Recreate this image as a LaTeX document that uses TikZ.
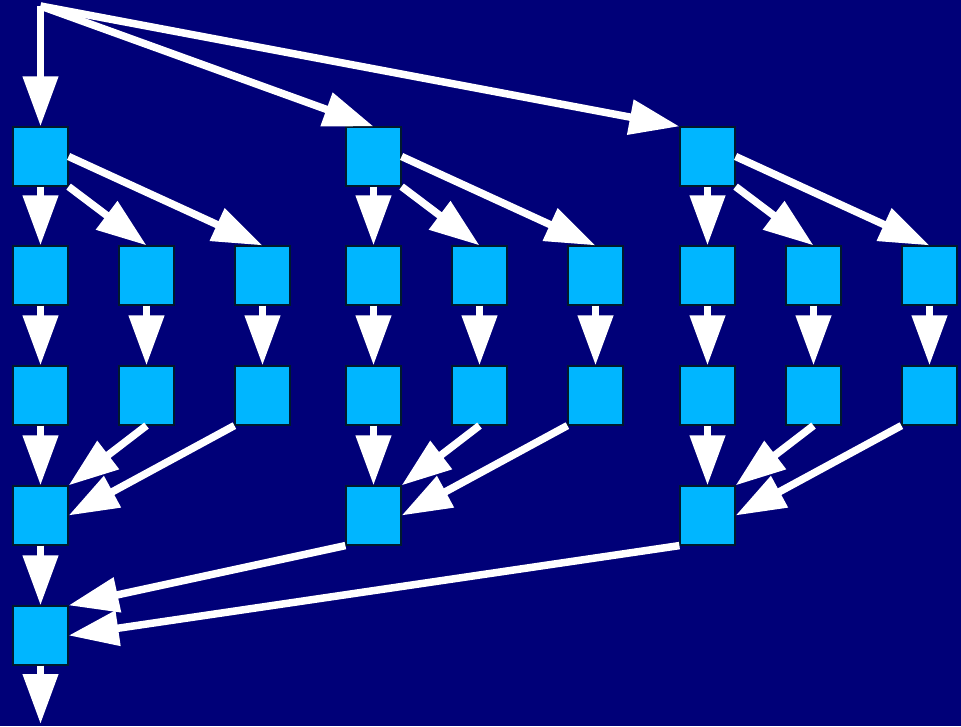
\documentclass[tikz,border=0pt]{standalone}
\usetikzlibrary{arrows.meta}
\definecolor{navy}{RGB}{0,0,120}
\definecolor{boxblue}{RGB}{0,182,255}
\definecolor{boxedge}{RGB}{0,25,45}
\begin{document}
\begin{tikzpicture}[x=1pt,y=-1pt,
  task/.style={rectangle, draw=boxedge, line width=1.2pt, fill=boxblue,
    minimum width=55pt, minimum height=59pt, inner sep=0pt},
  flow/.style={draw=white, line width=7.5pt,
    -{Triangle[length=50pt,width=34pt]}}]
  % background and page size
  \fill[navy] (0,0) rectangle (961,726);
  \useasboundingbox (0,0) rectangle (961,726);

  % three identical branches
  \foreach \g/\x in {a/40.5, b/373.5, c/707.5}{
    \node[task] (\g1)  at (\x,156.5) {};
    \node[task] (\g21) at (\x,275.5) {};
    \node[task] (\g22) at (\x+106,275.5) {};
    \node[task] (\g23) at (\x+222,275.5) {};
    \node[task] (\g31) at (\x,395.5) {};
    \node[task] (\g32) at (\x+106,395.5) {};
    \node[task] (\g33) at (\x+222,395.5) {};
    \node[task] (\g4)  at (\x,515.5) {};
  }
  % final join
  \node[task] (join) at (40.5,635.5) {};
  \coordinate (src) at (40.5,6);
  \coordinate (outlet) at (40.5,724);

  % fan-out from the source
  \draw[flow] (src) -- (a1.north);
  \draw[flow] (src) -- (b1.north);
  \draw[flow] (src) -- (c1.north west);

  % inside each branch
  \foreach \g in {a,b,c}{
    \draw[flow] (\g1.south) -- (\g21.north);
    \draw[flow] (\g1.south east) -- (\g22.north);
    \draw[flow] (\g1.east) -- (\g23.north);
    \draw[flow] (\g21.south) -- (\g31.north);
    \draw[flow] (\g22.south) -- (\g32.north);
    \draw[flow] (\g23.south) -- (\g33.north);
    \draw[flow] (\g31.south) -- (\g4.north);
    \draw[flow] (\g32.south) -- (\g4.north east);
    \draw[flow] (\g33.south west) -- (\g4.east);
  }

  % branches merge
  \draw[flow] (a4.south) -- (join.north);
  \draw[flow] (b4.south west) -- (join.north east);
  \draw[flow] (c4.south west) -- (join.east);
  \draw[flow] (join.south) -- (outlet);
\end{tikzpicture}
\end{document}
